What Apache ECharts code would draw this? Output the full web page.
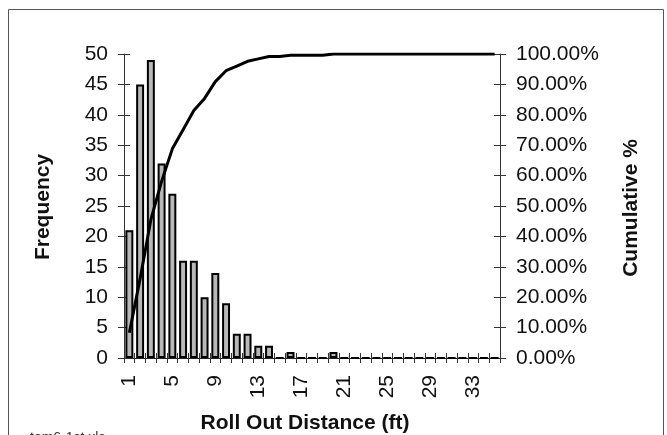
<!DOCTYPE html>
<html>
<head>
<meta charset="utf-8">
<script src="https://cdn.jsdelivr.net/npm/echarts@6/dist/echarts.min.js"></script>
<style>
  html, body { margin: 0; padding: 0; background: #fff; }
  #main { width: 667px; height: 435px; }
</style>
</head>
<body>
<div id="main"></div>
<script>
var categories = ['1', '2', '3', '4', '5', '6', '7', '8', '9', '10', '11', '12', '13', '14', '15', '16', '17', '18',
  '19', '20', '21', '22', '23', '24', '25', '26', '27', '28', '29', '30', '31', '32', '33', '34', '35'];
var frequency = [21, 45, 49, 32, 27, 16, 16, 10, 14, 9, 4, 4, 2, 2, 0, 1, 0, 0,
  0, 1, 0, 0, 0, 0, 0, 0, 0, 0, 0, 0, 0, 0, 0, 0, 0];
var cumulative = [8.3, 26.1, 45.5, 58.1, 68.8, 75.1, 81.4, 85.4, 90.9, 94.5, 96.0, 97.6, 98.4, 99.2, 99.2, 99.6, 99.6, 99.6,
  99.6, 100, 100, 100, 100, 100, 100, 100, 100, 100, 100, 100, 100, 100, 100, 100, 100];

var fontFam = 'Liberation Sans, Arial, sans-serif';
var chart = echarts.init(document.getElementById('main'), null, { renderer: 'canvas' });

var option = {
  animation: false,
  backgroundColor: '#fff',
  grid: { left: 124, right: 167, top: 54, bottom: 77 },
  xAxis: [
    {
      type: 'category',
      data: categories,
      boundaryGap: true,
      axisLine: { lineStyle: { color: '#222', width: 1 } },
      axisTick: { show: true, interval: 0, length: 5, lineStyle: { color: '#333' } },
      axisLabel: {
        interval: 3, rotate: 90, margin: 17,
        color: '#111', fontSize: 21, fontFamily: fontFam
      }
    },
    {
      type: 'category',
      data: categories,
      position: 'bottom',
      boundaryGap: true,
      axisLine: { show: false },
      axisTick: { show: true, inside: true, interval: 0, length: 5, lineStyle: { color: '#333' } },
      axisLabel: { show: false }
    }
  ],
  yAxis: [
    {
      type: 'value', min: 0, max: 50, interval: 5, position: 'left',
      splitLine: { show: false },
      axisLine: { show: true, lineStyle: { color: '#333' } },
      axisTick: { show: true, length: 6, lineStyle: { color: '#333' } },
      axisLabel: { margin: 16, color: '#111', fontSize: 21, fontFamily: fontFam }
    },
    {
      type: 'value', min: 0, max: 100, interval: 10, position: 'right',
      splitLine: { show: false },
      axisLine: { show: true, lineStyle: { color: '#333' } },
      axisTick: { show: true, length: 6, lineStyle: { color: '#333' } },
      axisLabel: {
        margin: 16, color: '#111', fontSize: 21, fontFamily: fontFam,
        formatter: function (v) { return v.toFixed(2) + '%'; }
      }
    },
    {
      type: 'value', min: 0, max: 50, interval: 5, position: 'left',
      splitLine: { show: false }, axisLine: { show: false }, axisLabel: { show: false },
      axisTick: { show: true, inside: true, length: 6, lineStyle: { color: '#333' } }
    },
    {
      type: 'value', min: 0, max: 100, interval: 10, position: 'right',
      splitLine: { show: false }, axisLine: { show: false }, axisLabel: { show: false },
      axisTick: { show: true, inside: true, length: 6, lineStyle: { color: '#333' } }
    }
  ],
  series: [
    {
      name: 'Frequency',
      type: 'bar',
      data: frequency,
      xAxisIndex: 0,
      yAxisIndex: 0,
      barCategoryGap: '26%',
      itemStyle: { color: '#b8b8b8', borderColor: '#000', borderWidth: 2 }
    },
    {
      name: 'Cumulative %',
      type: 'line',
      data: cumulative,
      xAxisIndex: 0,
      yAxisIndex: 1,
      symbol: 'none',
      z: 5,
      lineStyle: { color: '#000', width: 3 }
    }
  ],
  graphic: [
    {
      type: 'rect', silent: true,
      shape: { x: 8.5, y: 9.5, width: 655, height: 440 },
      style: { fill: 'none', stroke: '#555', lineWidth: 1 }
    },
    {
      type: 'text', x: 43, y: 207, rotation: Math.PI / 2,
      style: {
        text: 'Frequency', fill: '#111', font: 'bold 21px ' + fontFam,
        textAlign: 'center', textVerticalAlign: 'middle'
      }
    },
    {
      type: 'text', x: 631, y: 208, rotation: Math.PI / 2,
      style: {
        text: 'Cumulative %', fill: '#111', font: 'bold 21px ' + fontFam,
        textAlign: 'center', textVerticalAlign: 'middle'
      }
    },
    {
      type: 'text', x: 305, y: 423,
      style: {
        text: 'Roll Out Distance (ft)', fill: '#111', font: 'bold 21px ' + fontFam,
        textAlign: 'center', textVerticalAlign: 'middle'
      }
    },
    {
      type: 'text', x: 30, y: 431,
      style: {
        text: 'tem6-1st.xls', fill: '#333', font: '14px ' + fontFam,
        textAlign: 'left', textVerticalAlign: 'top'
      }
    }
  ]
};

chart.setOption(option);
window.addEventListener('resize', chart.resize);
</script>
</body>
</html>
